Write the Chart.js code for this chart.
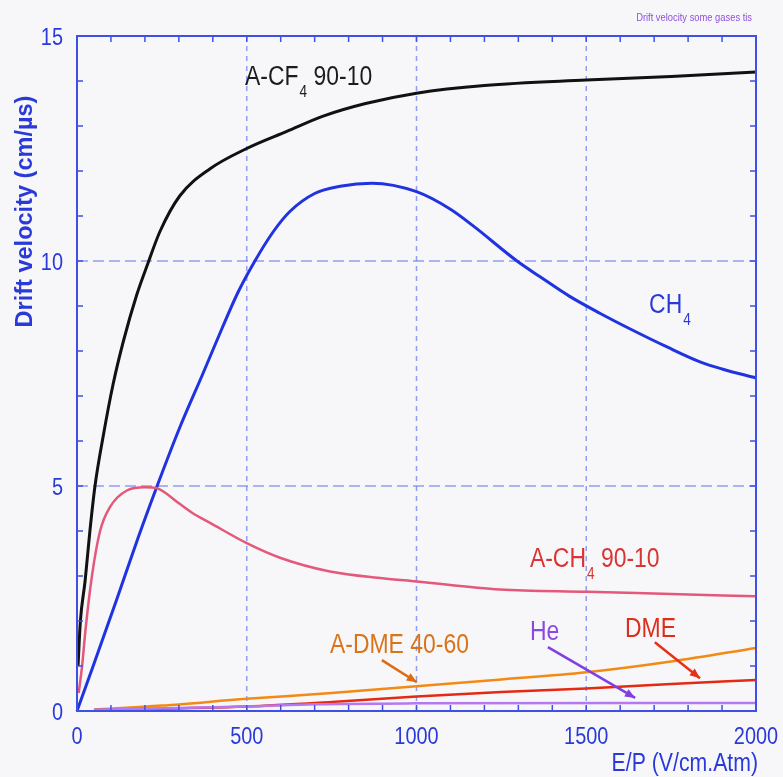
<!DOCTYPE html>
<html lang="en">
<head>
<meta charset="UTF-8">
<title>Drift velocity some gases</title>
<script src="https://cdn.jsdelivr.net/npm/chart.js"></script>
<style>
  body { margin: 0; background: #f7f7f9; }
  canvas { display: block; }
</style>
</head>
<body>
<canvas id="drift" width="783" height="777"></canvas>
<script>
// E/P (V/cm.Atm) and drift velocity (cm/us)
const cf4E = [3, 10, 24, 38, 53, 77, 106, 136, 176, 209, 244, 303, 392, 500, 618, 725, 850, 1000, 1200, 1500, 1750, 2000];
const cf4V = [1.0, 2.0, 2.9, 4.0, 5.0, 6.1, 7.25, 8.2, 9.25, 9.95, 10.65, 11.45, 12.05, 12.5, 12.88, 13.22, 13.5, 13.73, 13.9, 14.02, 14.1, 14.2];

const ch4E = [0, 50, 118, 180, 236, 300, 371, 427, 474, 524, 578, 627, 700, 775, 869, 1000, 1100, 1167, 1296, 1364, 1450, 1540, 1640, 1738, 1835, 1900, 2000];
const ch4V = [0, 1.05, 2.5, 3.85, 5.0, 6.25, 7.5, 8.5, 9.3, 10.0, 10.65, 11.1, 11.5, 11.66, 11.73, 11.54, 11.15, 10.78, 10.0, 9.65, 9.22, 8.84, 8.45, 8.09, 7.76, 7.6, 7.4];

const arCh4E = [5, 15, 25, 44, 68, 97, 147, 200, 235, 262, 294, 340, 392, 500, 600, 745, 900, 1000, 1246, 1502, 1750, 2000];
const arCh4V = [0.4, 1.0, 1.8, 3.0, 4.0, 4.53, 4.9, 4.97, 4.95, 4.84, 4.65, 4.4, 4.18, 3.73, 3.4, 3.1, 2.95, 2.88, 2.7, 2.65, 2.6, 2.55];

const dmeMixE = [50, 250, 500, 750, 1000, 1250, 1500, 1750, 2000];
const dmeMixV = [0.03, 0.12, 0.27, 0.4, 0.55, 0.7, 0.86, 1.1, 1.4];

const dmeE = [50, 500, 750, 1000, 1250, 1500, 1750, 2000];
const dmeV = [0.02, 0.1, 0.2, 0.32, 0.42, 0.5, 0.6, 0.69];

const heE = [50, 500, 700, 1000, 2000];
const heV = [0.03, 0.1, 0.15, 0.17, 0.18];

const xTicks = [0, 500, 1000, 1500, 2000];
const yTicks = [0, 5, 10, 15];
const xGrid = [500, 1000, 1500];
const yGrid = [5, 10];

function pts(xs, ys) {
  return xs.map((x, i) => ({ x: x, y: ys[i] }));
}

// text labels and arrows, placed in data coordinates
const labels = [
  { parts: ['A-CF', '4', ' 90-10'], x: 495, y: 13.91, color: '#1c1c1c' },
  { parts: ['CH', '4', ''], x: 1685, y: 8.84, color: '#2a3ad8' },
  { parts: ['A-CH', '4', ' 90-10'], x: 1334, y: 3.2, color: '#d83434' },
  { parts: ['A-DME 40-60'], x: 745, y: 1.29, color: '#d8741a' },
  { parts: ['He'], x: 1334, y: 1.58, color: '#8a4ae0' },
  { parts: ['DME'], x: 1614, y: 1.64, color: '#de2e1a' }
];
const arrows = [
  { from: [898, 1.13], to: [1001, 0.64], color: '#e06a10' },
  { from: [1387, 1.42], to: [1644, 0.29], color: '#8040e0' },
  { from: [1702, 1.53], to: [1835, 0.73], color: '#e83018' }
];

const blue = '#2a3ad8';
const frameBlue = '#3f50e8';

function text(ctx, str, x, y, font, color, align, sx) {
  ctx.save();
  ctx.font = font;
  ctx.fillStyle = color;
  ctx.textAlign = align || 'left';
  ctx.translate(x, y);
  ctx.scale(sx || 0.85, 1);
  ctx.fillText(str, 0, 0);
  ctx.restore();
}

function width(ctx, str, font, sx) {
  ctx.save();
  ctx.font = font;
  const w = ctx.measureText(str).width * (sx || 0.85);
  ctx.restore();
  return w;
}

const decor = {
  id: 'decor',
  beforeDraw(chart) {
    const ctx = chart.ctx;
    ctx.save();
    ctx.fillStyle = '#f7f7f9';
    ctx.fillRect(0, 0, chart.width, chart.height);
    ctx.restore();
  },
  beforeDatasetsDraw(chart) {
    const { ctx, chartArea: a, scales: { x, y } } = chart;
    ctx.save();
    ctx.strokeStyle = 'rgba(90,110,235,0.65)';
    ctx.lineWidth = 1.5;
    ctx.setLineDash([5, 5]);
    xGrid.forEach(v => {
      const px = x.getPixelForValue(v);
      ctx.beginPath(); ctx.moveTo(px, a.top); ctx.lineTo(px, a.bottom); ctx.stroke();
    });
    ctx.setLineDash([11, 5]);
    yGrid.forEach(v => {
      const py = y.getPixelForValue(v);
      ctx.beginPath(); ctx.moveTo(a.left, py); ctx.lineTo(a.right, py); ctx.stroke();
    });
    ctx.restore();
  },
  afterDatasetsDraw(chart) {
    const { ctx, chartArea: a, scales: { x, y } } = chart;
    ctx.save();
    // frame
    ctx.strokeStyle = frameBlue;
    ctx.lineWidth = 2;
    ctx.strokeRect(a.left, a.top, a.right - a.left, a.bottom - a.top);
    // minor ticks, inside, on all four sides
    ctx.lineWidth = 1.5;
    ctx.beginPath();
    for (let v = 100; v < 2000; v += 100) {
      const px = x.getPixelForValue(v);
      ctx.moveTo(px, a.bottom); ctx.lineTo(px, a.bottom - 6);
      ctx.moveTo(px, a.top); ctx.lineTo(px, a.top + 6);
    }
    for (let v = 1; v < 15; v += 1) {
      const py = y.getPixelForValue(v);
      ctx.moveTo(a.left, py); ctx.lineTo(a.left + 6, py);
      ctx.moveTo(a.right, py); ctx.lineTo(a.right - 6, py);
    }
    ctx.stroke();

    // tick labels
    const tickFont = '24px "Liberation Sans", Arial, sans-serif';
    ctx.textBaseline = 'alphabetic';
    xTicks.forEach(v => {
      text(ctx, String(v), x.getPixelForValue(v), a.bottom + 33, tickFont, blue, 'center', 0.83);
    });
    yTicks.forEach(v => {
      text(ctx, String(v), a.left - 14, y.getPixelForValue(v) + 9, tickFont, blue, 'right', 0.83);
    });

    // axis titles
    text(ctx, 'E/P (V/cm.Atm)', a.right + 2, a.bottom + 60, '25px "Liberation Sans", Arial, sans-serif', blue, 'right', 0.85);
    ctx.save();
    ctx.translate(a.left - 45, y.getPixelForValue(11.1));
    ctx.rotate(-Math.PI / 2);
    text(ctx, 'Drift velocity (cm/\u00b5s)', 0, 0, 'bold 24px "Liberation Sans", Arial, sans-serif', blue, 'center', 0.98);
    ctx.restore();

    // small caption top right
    text(ctx, 'Drift velocity some gases tis', a.right - 4, 21, '11px "Liberation Sans", Arial, sans-serif', '#9050e0', 'right', 0.85);

    // curve labels
    const big = '27px "Liberation Sans", Arial, sans-serif';
    const sub = '16px "Liberation Sans", Arial, sans-serif';
    labels.forEach(l => {
      let px = x.getPixelForValue(l.x);
      const py = y.getPixelForValue(l.y);
      text(ctx, l.parts[0], px, py, big, l.color);
      px += width(ctx, l.parts[0], big);
      if (l.parts.length > 1) {
        px += 1;
        text(ctx, l.parts[1], px, py + 12, sub, l.color);
        px += width(ctx, l.parts[1], sub);
        text(ctx, l.parts[2], px, py, big, l.color);
      }
    });

    // arrows
    arrows.forEach(ar => {
      const x0 = x.getPixelForValue(ar.from[0]), y0 = y.getPixelForValue(ar.from[1]);
      const x1 = x.getPixelForValue(ar.to[0]), y1 = y.getPixelForValue(ar.to[1]);
      const ang = Math.atan2(y1 - y0, x1 - x0);
      ctx.strokeStyle = ar.color;
      ctx.fillStyle = ar.color;
      ctx.lineWidth = 2.5;
      ctx.beginPath(); ctx.moveTo(x0, y0); ctx.lineTo(x1, y1); ctx.stroke();
      ctx.beginPath();
      ctx.moveTo(x1, y1);
      ctx.lineTo(x1 - 11 * Math.cos(ang - 0.4), y1 - 11 * Math.sin(ang - 0.4));
      ctx.lineTo(x1 - 11 * Math.cos(ang + 0.4), y1 - 11 * Math.sin(ang + 0.4));
      ctx.closePath();
      ctx.fill();
    });
    ctx.restore();
  }
};

function series(label, xs, ys, color, w) {
  return {
    label: label,
    data: pts(xs, ys),
    borderColor: color,
    borderWidth: w,
    showLine: true,
    pointRadius: 0,
    cubicInterpolationMode: 'monotone',
    clip: 6
  };
}

new Chart(document.getElementById('drift'), {
  type: 'scatter',
  data: {
    datasets: [
      series('He', heE, heV, '#b478f0', 2.5),
      series('DME', dmeE, dmeV, '#e42a12', 2.5),
      series('A-DME 40-60', dmeMixE, dmeMixV, '#f28a14', 2.5),
      series('A-CH4 90-10', arCh4E, arCh4V, '#e4587a', 2.5),
      series('CH4', ch4E, ch4V, '#1f33e0', 3),
      series('A-CF4 90-10', cf4E, cf4V, '#111111', 3)
    ]
  },
  options: {
    responsive: false,
    animation: false,
    layout: { padding: { left: 77, right: 27, top: 36, bottom: 66 } },
    plugins: { legend: { display: false }, tooltip: { enabled: false } },
    scales: {
      x: { type: 'linear', min: 0, max: 2000, display: false },
      y: { type: 'linear', min: 0, max: 15, display: false }
    }
  },
  plugins: [decor]
});
</script>
</body>
</html>
